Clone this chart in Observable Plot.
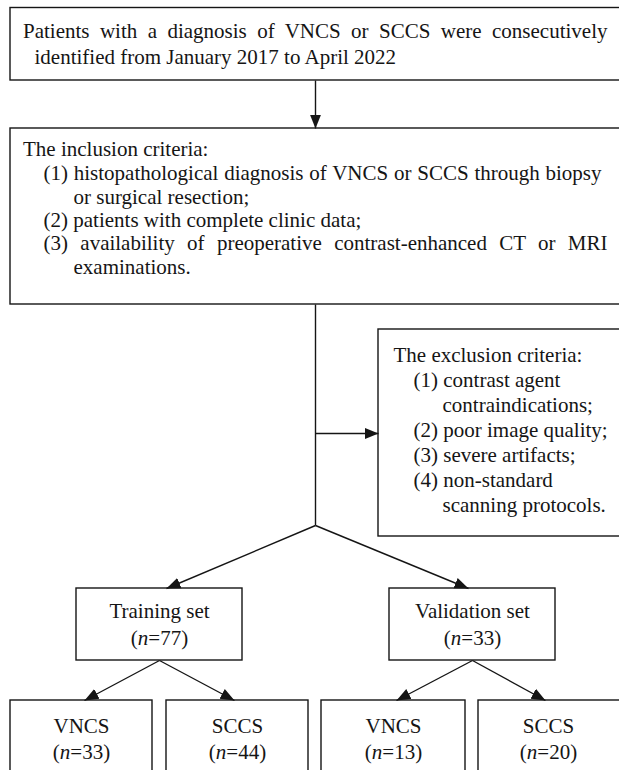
<!DOCTYPE html>
<html>
<head>
<meta charset="utf-8">
<script src="https://cdn.jsdelivr.net/npm/d3@7"></script>
<script src="https://cdn.jsdelivr.net/npm/@observablehq/plot@0.6"></script>
<style>
  html, body { margin: 0; padding: 0; background: #fff; overflow: hidden; }
  #chart svg { display: block; }
</style>
</head>
<body>
<div id="chart"></div>
<script>
// ---------- data ----------
const cohortText = ["Patients with a diagnosis of VNCS or SCCS were consecutively", "identified from January 2017 to April 2022"];
const inclusionTitle = "The inclusion criteria:";
const inclusionItems = [
  ["(1) histopathological diagnosis of VNCS or SCCS through biopsy", "or surgical resection;"],
  ["(2) patients with complete clinic data;"],
  ["(3) availability of preoperative contrast-enhanced CT or MRI", "examinations."]
];
const exclusionTitle = "The exclusion criteria:";
const exclusionItems = [
  ["(1) contrast agent", "contraindications;"],
  ["(2) poor image quality;"],
  ["(3) severe artifacts;"],
  ["(4) non-standard", "scanning protocols."]
];
const setNames = ["Training set", "Validation set"];
const setCounts = [77, 33];
const groupNames = ["VNCS", "SCCS", "VNCS", "SCCS"];
const groupCounts = [33, 44, 13, 20];

// ---------- layout ----------
const W = 619, H = 770;
const FONT = "'Liberation Serif', 'Times New Roman', serif";
const FS = 21;
const boxes = [
  {x1: 10, y1: 7.5, x2: 622, y2: 80},     // cohort
  {x1: 10, y1: 128, x2: 622, y2: 304},    // inclusion
  {x1: 378, y1: 329, x2: 622, y2: 536},   // exclusion
  {x1: 76, y1: 588, x2: 242, y2: 660},    // training
  {x1: 389, y1: 588, x2: 555, y2: 660},   // validation
  {x1: 10, y1: 700, x2: 152, y2: 790},
  {x1: 166, y1: 700, x2: 308, y2: 790},
  {x1: 321, y1: 700, x2: 465, y2: 790},
  {x1: 478, y1: 700, x2: 622, y2: 790}
];

// left-aligned text lines
const leftLines = [];
leftLines.push({text: cohortText[0], x: 22.5, y: 31, justify: 607});
leftLines.push({text: cohortText[1], x: 34, y: 57});
leftLines.push({text: inclusionTitle, x: 22.5, y: 149});
{
  const ends = [601, null, 607];
  let y = 173;
  inclusionItems.forEach((item, i) => {
    item.forEach((t, j) => {
      leftLines.push({text: t, x: j === 0 ? 43 : 73, y, justify: (j === 0 && item.length > 1) ? ends[i] : null});
      y += 23.4;
    });
  });
}
leftLines.push({text: exclusionTitle, x: 393, y: 355});
{
  let y = 380;
  exclusionItems.forEach(item => {
    item.forEach((t, j) => {
      leftLines.push({text: t, x: j === 0 ? 413 : 442, y});
      y += 25;
    });
  });
}

// centred text lines
const centerLines = [];
const setBoxes = boxes.slice(3, 5);
setNames.forEach((s, i) => {
  const cx = (setBoxes[i].x1 + setBoxes[i].x2) / 2;
  centerLines.push({text: s, x: cx, y: 611});
  centerLines.push({text: `(n=${setCounts[i]})`, x: cx, y: 638});
});
const groupBoxes = boxes.slice(5);
groupNames.forEach((g, i) => {
  const cx = (groupBoxes[i].x1 + Math.min(groupBoxes[i].x2, W - 1)) / 2;
  centerLines.push({text: g, x: cx, y: 726});
  centerLines.push({text: `(n=${groupCounts[i]})`, x: cx, y: 752});
});

// connectors
const trunkX = 315, branchY = 525;
const plainLinks = [{x1: trunkX, y1: 304, x2: trunkX, y2: branchY}];
const arrows = [
  {x1: trunkX, y1: 80, x2: trunkX, y2: 128},
  {x1: trunkX, y1: 433, x2: 378, y2: 433},
  {x1: trunkX, y1: branchY, x2: (setBoxes[0].x1 + setBoxes[0].x2) / 2 + 7, y2: 588},
  {x1: trunkX, y1: branchY, x2: (setBoxes[1].x1 + setBoxes[1].x2) / 2 - 4, y2: 588}
];
setBoxes.forEach((b, i) => {
  const cx = (b.x1 + b.x2) / 2;
  [groupBoxes[2 * i], groupBoxes[2 * i + 1]].forEach((g, k) => {
    const gx = (g.x1 + Math.min(g.x2, W - 1)) / 2 + (k === 0 ? 3 : -3);
    arrows.push({x1: cx, y1: 660, x2: gx, y2: 700});
  });
});

const INK = "#151515";
function filledArrow() {
  const m = d3.create("svg:marker")
    .attr("viewBox", "0 -5 10 10")
    .attr("refX", 10).attr("refY", 0)
    .attr("markerWidth", 14).attr("markerHeight", 14)
    .attr("markerUnits", "userSpaceOnUse")
    .attr("orient", "auto");
  m.append("path").attr("d", "M0,-4L10,0L0,4Z").attr("fill", INK).attr("stroke", "none");
  return m.node();
}

const chart = Plot.plot({
  width: W, height: H,
  margin: 0,
  x: {domain: [0, W], range: [0, W], axis: null},
  y: {domain: [0, H], range: [0, H], axis: null},
  style: {fontFamily: FONT, background: "#fff"},
  marks: [
    Plot.rect(boxes, {x1: "x1", x2: "x2", y1: "y1", y2: "y2", fill: "#fff", stroke: INK, strokeWidth: 1.4}),
    Plot.link(plainLinks, {x1: "x1", y1: "y1", x2: "x2", y2: "y2", stroke: INK, strokeWidth: 1.4}),
    Plot.link(arrows, {x1: "x1", y1: "y1", x2: "x2", y2: "y2", stroke: INK, strokeWidth: 1.4, markerEnd: filledArrow}),
    Plot.text(leftLines, {x: "x", y: "y", text: "text", textAnchor: "start", lineAnchor: "middle", fontSize: FS, fontFamily: FONT, fill: INK}),
    Plot.text(centerLines, {x: "x", y: "y", text: "text", textAnchor: "middle", lineAnchor: "middle", fontSize: FS, fontFamily: FONT, fill: INK})
  ]
});

document.getElementById("chart").appendChild(chart);

// justify lines (word spacing) and italicise "n"
const justifyMap = new Map(leftLines.filter(d => d.justify).map(d => [d.text, d]));
d3.select(chart).selectAll("text").each(function () {
  const t = this.textContent;
  if (justifyMap.has(t)) {
    const d = justifyMap.get(t);
    const natural = this.getComputedTextLength();
    const gaps = (t.match(/ /g) || []).length;
    const extra = (d.justify - d.x - natural) / gaps;
    if (gaps && extra > 0) this.style.wordSpacing = extra + "px";
  }
  const m = /^\(n=(\d+)\)$/.exec(t);
  if (m) {
    const sel = d3.select(this);
    sel.text(null);
    sel.append("tspan").text("(");
    sel.append("tspan").attr("font-style", "italic").text("n");
    sel.append("tspan").text("=" + m[1] + ")");
  }
});
</script>
</body>
</html>
